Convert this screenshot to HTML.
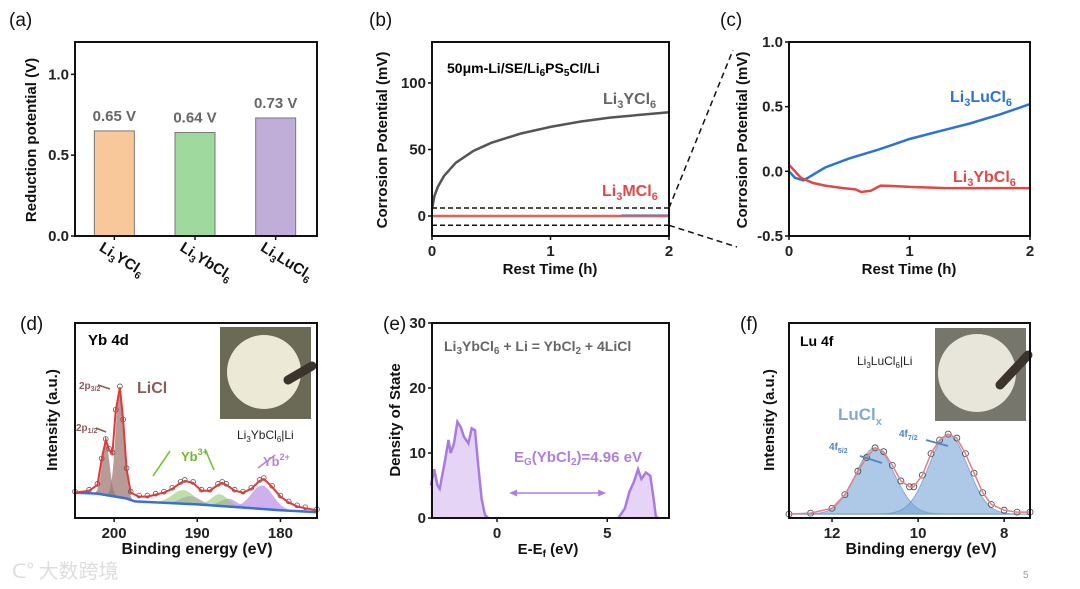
<!DOCTYPE html>
<html><head><meta charset="utf-8"><style>
html,body{margin:0;padding:0;background:#fff;}
svg{display:block;font-family:"Liberation Sans",Arial,"Noto Sans CJK SC",sans-serif;}
.tk{font-size:15px;font-weight:bold;fill:#222;}
.al{font-size:15px;font-weight:bold;fill:#111;}
.pl{font-size:19px;fill:#111;font-family:"Liberation Sans","DejaVu Sans",sans-serif;}
</style></head><body>
<svg id="fig" width="1080" height="589" viewBox="0 0 1080 589">
<!-- panel letters -->
<text class="pl" x="9" y="26">(a)</text>
<text class="pl" x="369" y="26">(b)</text>
<text class="pl" x="720" y="26">(c)</text>
<text class="pl" x="20" y="330">(d)</text>
<text class="pl" x="383" y="330">(e)</text>
<text class="pl" x="740" y="330">(f)</text>

<g id="pa"></g>
<g id="pb"></g>
<g id="pc"></g>
<g id="pd"></g>
<g id="pe"></g>
<g id="pf"></g>

<!-- static labels -->
<text class="al" transform="translate(36,140) rotate(-90)" text-anchor="middle">Reduction potential (V)</text>
<text class="al" transform="translate(387,140) rotate(-90)" text-anchor="middle">Corrosion Potential (mV)</text>
<text class="al" x="550" y="274" text-anchor="middle">Rest Time (h)</text>
<text style="font-size:14px;font-weight:bold" x="447" y="73">50μm-Li/SE/Li<tspan font-size="10" dy="3">6</tspan><tspan dy="-3">PS</tspan><tspan font-size="10" dy="3">5</tspan><tspan dy="-3">Cl/Li</tspan></text>
<text style="font-size:16px;font-weight:bold;fill:#666" x="603" y="104">Li<tspan font-size="11" dy="4">3</tspan><tspan dy="-4">YCl</tspan><tspan font-size="11" dy="4">6</tspan></text>
<text style="font-size:16px;font-weight:bold;fill:#e04848" x="602" y="196">Li<tspan font-size="11" dy="4">3</tspan><tspan dy="-4">MCl</tspan><tspan font-size="11" dy="4">6</tspan></text>

<text class="al" transform="translate(747,140) rotate(-90)" text-anchor="middle">Corrosion Potential (mV)</text>
<text class="al" x="909" y="274" text-anchor="middle">Rest Time (h)</text>
<text style="font-size:16px;font-weight:bold;fill:#2b73d6" x="950" y="102">Li<tspan font-size="11" dy="4">3</tspan><tspan dy="-4">LuCl</tspan><tspan font-size="11" dy="4">6</tspan></text>
<text style="font-size:16px;font-weight:bold;fill:#e04848" x="953" y="182">Li<tspan font-size="11" dy="4">3</tspan><tspan dy="-4">YbCl</tspan><tspan font-size="11" dy="4">6</tspan></text>

<text class="al" transform="translate(57,420) rotate(-90)" text-anchor="middle">Intensity (a.u.)</text>
<text class="al" x="197" y="554" text-anchor="middle" style="font-size:16px">Binding energy (eV)</text>
<text style="font-size:15px;font-weight:bold" x="88" y="345">Yb 4d</text>
<text style="font-size:16px;font-weight:bold;fill:#8b5a5a" x="137" y="393">LiCl</text>
<text style="font-size:10px;font-weight:bold;fill:#8b5a5a" x="79" y="389">2p<tspan font-size="7" dy="2">3/2</tspan></text>
<text style="font-size:10px;font-weight:bold;fill:#8b5a5a" x="76" y="431">2p<tspan font-size="7" dy="2">1/2</tspan></text>
<text style="font-size:13px;font-weight:bold;fill:#6aba28" x="181" y="461">Yb<tspan font-size="9" dy="-6">3+</tspan></text>
<text style="font-size:13px;font-weight:bold;fill:#b682e0" x="263" y="466">Yb<tspan font-size="9" dy="-6">2+</tspan></text>
<text style="font-size:12px;fill:#222" x="237" y="439">Li<tspan font-size="8" dy="3">3</tspan><tspan dy="-3">YbCl</tspan><tspan font-size="8" dy="3">6</tspan><tspan dy="-3">|Li</tspan></text>

<text class="al" transform="translate(400,420) rotate(-90)" text-anchor="middle">Density of State</text>
<text class="al" x="548" y="554" text-anchor="middle">E-E<tspan font-size="10" dy="3">f</tspan><tspan dy="-3"> (eV)</tspan></text>
<text style="font-size:14px;font-weight:bold;fill:#666" x="444" y="351">Li<tspan font-size="10" dy="3">3</tspan><tspan dy="-3">YbCl</tspan><tspan font-size="10" dy="3">6</tspan><tspan dy="-3"> + Li = YbCl</tspan><tspan font-size="10" dy="3">2</tspan><tspan dy="-3"> + 4LiCl</tspan></text>
<text style="font-size:15px;font-weight:bold;fill:#b07ee0" x="514" y="462">E<tspan font-size="10" dy="3">G</tspan><tspan dy="-3">(YbCl</tspan><tspan font-size="10" dy="3">2</tspan><tspan dy="-3">)=4.96 eV</tspan></text>

<text class="al" transform="translate(774,420) rotate(-90)" text-anchor="middle">Intensity (a.u.)</text>
<text class="al" x="921" y="554" text-anchor="middle" style="font-size:16px">Binding energy (eV)</text>
<text style="font-size:14px;font-weight:bold" x="800" y="346">Lu 4f</text>
<text style="font-size:12px;fill:#222" x="857" y="365">Li<tspan font-size="8" dy="3">3</tspan><tspan dy="-3">LuCl</tspan><tspan font-size="8" dy="3">6</tspan><tspan dy="-3">|Li</tspan></text>
<text style="font-size:17px;font-weight:bold;fill:#7fa9d6" x="838" y="420">LuCl<tspan font-size="11" dy="5">x</tspan></text>
<text style="font-size:10px;font-weight:bold;fill:#4f86c0" x="829" y="450">4f<tspan font-size="7" dy="3">5/2</tspan></text>
<text style="font-size:10px;font-weight:bold;fill:#4f86c0" x="899" y="437">4f<tspan font-size="7" dy="3">7/2</tspan></text>

<text x="12" y="578" style="font-size:20px;fill:#ddd;font-family:'Noto Sans CJK SC',sans-serif">ᑕ° 大数跨境</text>
<text x="1023" y="578" style="font-size:10px;fill:#999">5</text>
</svg>
<script>
// ---- data ----
const barCategories = ['Li3YCl6','Li3YbCl6','Li3LuCl6'];
const barValues = [0.65, 0.64, 0.73];
const barLabels = ['0.65 V','0.64 V','0.73 V'];
const barColors = ['#f8c89a','#a0d99e','#c0aed8'];
const aTicks = [0.0, 0.5, 1.0];

const bTime = [0,0.02,0.05,0.1,0.2,0.35,0.5,0.75,1,1.25,1.5,1.75,2];
const bYCl = [5,15,22,30,40,49,55,62,67,71,74,76,78];
const bMCl = [0,0,0,0,0,0,0,0,0,0,0,0,0];
const bTicksY = [0,50,100];
const bTicksX = [0,1,2];

const cTimeLu = [0,0.05,0.12,0.3,0.5,0.75,1,1.25,1.5,1.75,2];
const cLu = [0.0,-0.05,-0.07,0.03,0.1,0.17,0.25,0.31,0.37,0.44,0.52];
const cTimeYb = [0,0.05,0.1,0.2,0.3,0.45,0.55,0.6,0.68,0.72,0.76,0.9,1.0,1.3,1.6,2];
const cYb = [0.05,0.0,-0.05,-0.09,-0.11,-0.13,-0.14,-0.16,-0.15,-0.13,-0.11,-0.115,-0.12,-0.13,-0.13,-0.13];
const cTicksY = [-0.5,0.0,0.5,1.0];
const cTicksX = [0,1,2];

const dEnergy = [204.7,203,202,201.5,201,200.6,200.2,199.8,199.3,198.9,198.5,198,197,196,195,194,193,192,191.5,190.5,189.5,188.5,187.5,187,186.5,185.5,184.5,183.5,182.5,182,181,180,179,178,177,175.6];
const dEnvelope = [13,14,17,30,40,35,33,55,67,50,25,13,11,11,12,13,15,18,19,18,14,14,17,18,17,14,13,15,19,20,16,11,8,6,5,4];
const dBgEnergy = [204.7,202,198.5,197.5,190,180,175.6];
const dBackground = [13,12.5,10,8.5,7,4,3];
const dLiClPeaks = [[199.3,57,0.5],[201,27,0.45]];
const dYb3Peaks = [[191.7,7,1.3],[187.3,6,1.0]];
const dYb2Peaks = [[190.8,4,1.2],[186.2,4,1.0],[182.2,12,1.3]];
const dTicksX = [200,190,180];

const eEnergyVB = [-3.0,-2.85,-2.7,-2.6,-2.35,-2.2,-2.1,-1.95,-1.8,-1.65,-1.5,-1.3,-1.15,-1.0,-0.85,-0.7,-0.55,-0.4];
const eDosVB = [5,7.5,5,4.5,9,12,10,11.5,14.8,14,12.5,11.5,13.8,13.5,8,3,0.5,0];
const eEnergyCB = [5.5,5.8,6.0,6.2,6.4,6.55,6.75,6.95,7.1,7.2,7.3];
const eDosCB = [0,1.5,4,5.5,7.5,6,7,6.5,3,0.3,0];
const eTicksY = [0,10,20,30];
const eTicksX = [0,5];

const fEnergy = [13.0,12.5,12.0,11.7,11.4,11.2,11.0,10.8,10.6,10.4,10.2,10.1,9.9,9.7,9.5,9.3,9.1,8.9,8.7,8.5,8.3,8.0,7.7,7.4];
const fEnvelope = [2,2.5,5,12,24,31,36,34,27,19,16,16,22,33,40,43,41,33,23,13,7,4,3,3];
const fPeaks = [[11.0,34,0.45],[9.3,41,0.45]];
const fTicksX = [12,10,8];

// ---- helpers ----
const NS='http://www.w3.org/2000/svg';
function mk(parent,tag,attrs){const e=document.createElementNS(NS,tag);for(const k in attrs)e.setAttribute(k,attrs[k]);parent.appendChild(e);return e;}
function lin(d0,d1,r0,r1){return v=>r0+(v-d0)*(r1-r0)/(d1-d0);}
function pathD(xs,ys,sx,sy){return xs.map((x,i)=>(i?'L':'M')+sx(x).toFixed(1)+','+sy(ys[i]).toFixed(1)).join('');}
function frame(g,x0,y0,x1,y1,name){const r=mk(g,'rect',{x:x0,y:y0,width:x1-x0,height:y1-y0,fill:'none',stroke:'#111','stroke-width':2});

}
function yTicks(g,ticks,sy,x0,fmt,name){ticks.forEach(t=>{const y=sy(t);mk(g,'line',{x1:x0-4,y1:y,x2:x0,y2:y,stroke:'#111','stroke-width':1.5});
const tx=mk(g,'text',{x:x0-6,y:y+5,'text-anchor':'end',class:'tk'});tx.textContent=fmt(t);

});}
function xTicks(g,ticks,sx,y0,name){ticks.forEach(t=>{const x=sx(t);mk(g,'line',{x1:x,y1:y0,x2:x,y2:y0+4,stroke:'#111','stroke-width':1.5});
const tx=mk(g,'text',{x:x,y:y0+20,'text-anchor':'middle',class:'tk'});tx.textContent=t;

});}
function gauss(x,p){return p[1]*Math.exp(-((x-p[0])**2)/(2*p[2]*p[2]));}
function interp(xs,ys,x){for(let i=0;i<xs.length-1;i++){const a=xs[i],b=xs[i+1];if((x-a)*(x-b)<=0){return ys[i]+(ys[i+1]-ys[i])*(x-a)/(b-a);}}return ys[ys.length-1];}

// ---- panel a ----
(function(){const g=document.getElementById('pa');const x0=75,x1=317,y0=42,y1=236;
const sy=lin(0,1.2,y1,y0);const bw=40;const step=(x1-x0)/3;
barValues.forEach((v,i)=>{const cx=x0+step*(i+0.5)-1;
const r=mk(g,'rect',{x:cx-bw/2,y:sy(v),width:bw,height:y1-sy(v),fill:barColors[i],stroke:'#777','stroke-width':1});


const t=mk(g,'text',{x:cx,y:sy(v)-10,'text-anchor':'middle',style:'font-size:15px;font-weight:bold;fill:#666'});t.textContent=barLabels[i];


const lab=mk(g,'text',{transform:'translate('+(cx-16)+',250) rotate(32)',style:'font-size:15px;font-weight:bold;fill:#111'});
const m=barCategories[i].match(/Li3(.*)Cl6/);
lab.innerHTML='Li<tspan font-size="10" dy="4">3</tspan><tspan dy="-4">'+m[1]+'Cl</tspan><tspan font-size="10" dy="4">6</tspan>';


mk(g,'line',{x1:cx,y1:y1,x2:cx,y2:y1+4,stroke:'#111','stroke-width':1.5});});
yTicks(g,aTicks,sy,x0,t=>t.toFixed(1),'y-tick-label-a');
frame(g,x0,y0,x1,y1,'plot-frame-a');})();

// ---- panel b ----
(function(){const g=document.getElementById('pb');const x0=432,x1=669,y0=42,y1=236;
const sx=lin(0,2,x0,x1),sy=lin(0,100,216,83);
const p=mk(g,'path',{d:pathD(bTime,bYCl,sx,sy),fill:'none',stroke:'#555','stroke-width':2.5});


const q=mk(g,'path',{d:pathD(bTime,bMCl,sx,sy),fill:'none',stroke:'#e36060','stroke-width':2.5});


mk(g,'line',{x1:sx(1.6),y1:sy(0)-1,x2:x1,y2:sy(0)-1,stroke:'#4a7fd0','stroke-width':1.2});
[6,-7].forEach(v=>{const d=mk(g,'line',{x1:x0,y1:sy(v),x2:x1,y2:sy(v),stroke:'#111','stroke-width':1.5,'stroke-dasharray':'5,3'});

});
mk(document.getElementById('fig'),'line',{x1:x1,y1:sy(6),x2:733,y2:50,stroke:'#111','stroke-width':1.5,'stroke-dasharray':'6,4'});
mk(document.getElementById('fig'),'line',{x1:x1,y1:sy(-7),x2:737,y2:247,stroke:'#111','stroke-width':1.5,'stroke-dasharray':'6,4'});
yTicks(g,bTicksY,sy,x0,t=>t,'y-tick-label-b');xTicks(g,bTicksX,sx,y1,'x-tick-label-b');
frame(g,x0,y0,x1,y1,'plot-frame-b');})();

// ---- panel c ----
(function(){const g=document.getElementById('pc');const x0=789,x1=1030,y0=42,y1=236;
const sx=lin(0,2,x0,x1),sy=lin(-0.5,1.0,y1,y0);
const p=mk(g,'path',{d:pathD(cTimeLu,cLu,sx,sy),fill:'none',stroke:'#2b73d6','stroke-width':2.5});


const q=mk(g,'path',{d:pathD(cTimeYb,cYb,sx,sy),fill:'none',stroke:'#e04848','stroke-width':2.5});


yTicks(g,cTicksY,sy,x0,t=>t.toFixed(1),'y-tick-label-c');xTicks(g,cTicksX,sx,y1,'x-tick-label-c');
frame(g,x0,y0,x1,y1,'plot-frame-c');})();

// ---- panel d ----
(function(){const g=document.getElementById('pd');const x0=75,x1=317,y0=323,y1=518;
const sx=lin(204.7,175.6,x0,x1),sy=lin(0,100,y1,y0);
const bg=x=>interp(dBgEnergy,dBackground,x);
const grid=[];for(let i=0;i<=240;i++)grid.push(204.7-i*29.1/240);
function comp(peaks,fill,name){peaks.forEach(pk=>{const ys=grid.map(x=>bg(x)+gauss(x,pk));
const a=mk(g,'path',{d:pathD(grid,ys,sx,sy)+'L'+sx(175.6)+','+sy(bg(175.6))+pathD(grid.slice().reverse(),grid.slice().reverse().map(bg),sx,sy).replace('M','L')+'Z',fill:fill,stroke:'none'});

});}
comp(dYb2Peaks,'rgba(190,150,230,0.75)','peak-yb2plus');
comp(dYb3Peaks,'rgba(150,200,110,0.6)','peak-yb3plus');
comp(dLiClPeaks,'rgba(160,120,115,0.75)','peak-licl');
const b=mk(g,'path',{d:pathD(dBgEnergy,dBackground,sx,sy),fill:'none',stroke:'#3b6fd8','stroke-width':2.5});


dEnergy.forEach((e,i)=>{if(i%1===0){const c=mk(g,'circle',{cx:sx(e),cy:sy(dEnvelope[i])-1,r:2.4,fill:'none',stroke:'#555','stroke-width':0.8});

}});
const env=mk(g,'path',{d:pathD(dEnergy,dEnvelope,sx,sy),fill:'none',stroke:'#e03a3a','stroke-width':2});


[[170,451,153,476,'#7ac23a'],[205,449,214,470,'#7ac23a'],[275,455,258,468,'#b682e0'],[98,385,110,389,'#8b5a5a'],[96,428,106,432,'#8b5a5a']].forEach(a=>{mk(g,'line',{x1:a[0],y1:a[1],x2:a[2],y2:a[3],stroke:a[4],'stroke-width':1.6});});
const ph=mk(g,'rect',{x:220,y:327,width:91,height:92,fill:'#6b6a56'});


mk(g,'circle',{cx:264,cy:372,r:37,fill:'#ece9d6'});
mk(g,'line',{x1:288,y1:380,x2:312,y2:366,stroke:'#3a342c','stroke-width':9,'stroke-linecap':'round'});
xTicks(g,dTicksX,sx,y1,'x-tick-label-d');
frame(g,x0,y0,x1,y1,'plot-frame-d');})();

// ---- panel e ----
(function(){const g=document.getElementById('pe');const x0=432,x1=669,y0=323,y1=518;
const sx=lin(-2.95,7.8,x0,x1),sy=lin(0,30,y1,y0);
function area(xs,ys,name){const d=pathD(xs,ys,sx,sy);
const a=mk(g,'path',{d:d+'L'+sx(xs[xs.length-1])+','+y1+'L'+sx(xs[0])+','+y1+'Z',fill:'#e6d4f6',stroke:'none'});


const l=mk(g,'path',{d:d,fill:'none',stroke:'#a97be0','stroke-width':2.5});

}
area(eEnergyVB,eDosVB,'dos-valence-band');area(eEnergyCB,eDosCB,'dos-conduction-band');
const ar=mk(g,'line',{x1:sx(0.7),y1:493,x2:sx(4.8),y2:493,stroke:'#b07ee0','stroke-width':1.5});


mk(g,'path',{d:'M'+sx(0.55)+',493l8,-3.5v7z',fill:'#b07ee0'});
mk(g,'path',{d:'M'+sx(4.95)+',493l-8,-3.5v7z',fill:'#b07ee0'});
yTicks(g,eTicksY,sy,x0,t=>t,'y-tick-label-e');xTicks(g,eTicksX,sx,y1,'x-tick-label-e');
frame(g,x0,y0,x1,y1,'plot-frame-e');})();

// ---- panel f ----
(function(){const g=document.getElementById('pf');const x0=789,x1=1030,y0=323,y1=518;
const sx=lin(13.0,7.4,x0,x1),sy=lin(0,100,y1,y0);
const grid=[];for(let i=0;i<=200;i++)grid.push(13.0-i*5.6/200);
fPeaks.forEach(pk=>{const ys=grid.map(x=>2+gauss(x,pk));
const a=mk(g,'path',{d:pathD(grid,ys,sx,sy)+'L'+sx(7.4)+','+sy(2)+'L'+sx(13)+','+sy(2)+'Z',fill:'rgba(120,165,215,0.6)',stroke:'rgba(90,140,200,0.6)','stroke-width':1});

});
fEnergy.forEach((e,i)=>{const c=mk(g,'circle',{cx:sx(e),cy:sy(fEnvelope[i]),r:3,fill:'none',stroke:'#444','stroke-width':0.8});

});
const env=mk(g,'path',{d:pathD(fEnergy,fEnvelope,sx,sy),fill:'none',stroke:'#e08080','stroke-width':1.5});


[[860,456,882,463],[926,440,948,446]].forEach(a=>{mk(g,'line',{x1:a[0],y1:a[1],x2:a[2],y2:a[3],stroke:'#4f86c0','stroke-width':1.8});});
const ph=mk(g,'rect',{x:935,y:328,width:91,height:93,fill:'#77766c'});


mk(g,'circle',{cx:977,cy:373,r:39,fill:'#e8e5da'});
mk(g,'line',{x1:1000,y1:385,x2:1028,y2:355,stroke:'#3a342c','stroke-width':9,'stroke-linecap':'round'});
xTicks(g,fTicksX,sx,y1,'x-tick-label-f');
frame(g,x0,y0,x1,y1,'plot-frame-f');})();
</script>
</body></html>
